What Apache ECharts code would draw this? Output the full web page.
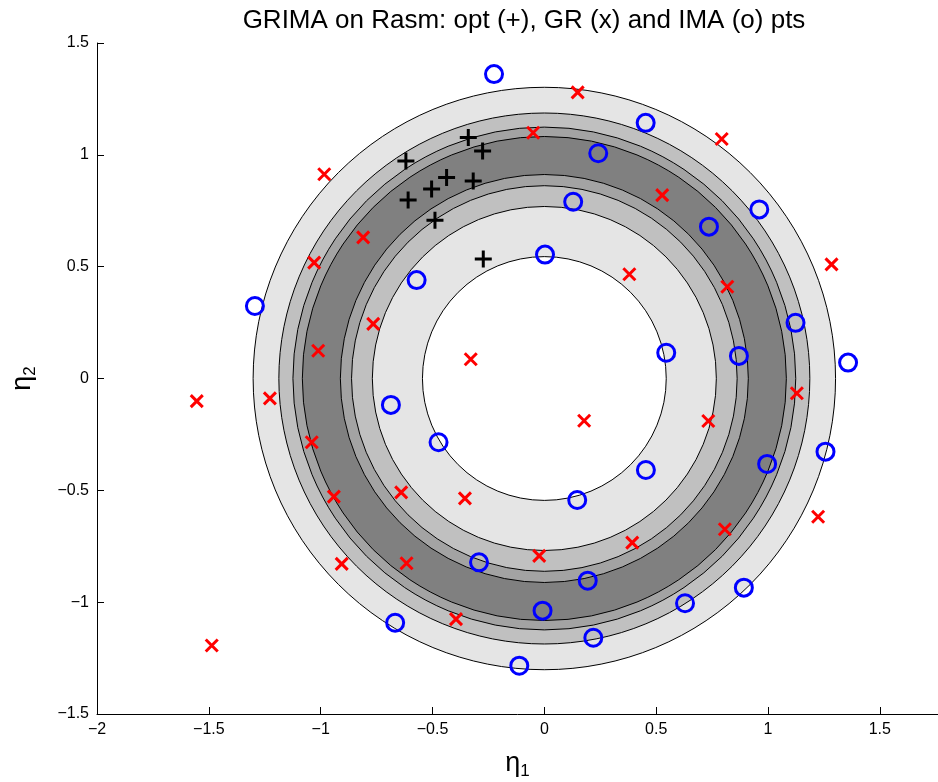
<!DOCTYPE html>
<html>
<head>
<meta charset="utf-8">
<script src="https://cdn.jsdelivr.net/npm/echarts@6/dist/echarts.min.js"></script>
<style>
  html, body { margin: 0; padding: 0; background: #ffffff; }
  #chart { width: 938px; height: 782px; }
</style>
</head>
<body>
<div id="chart"></div>
<script>
// Contour level radii (filled bands between consecutive circles), outermost first
const levelRadii = [1.302, 1.187, 1.124, 1.082, 0.912, 0.862, 0.769, 0.545];

// opt (+) points
const optX = [-0.619, -0.340, -0.276, -0.609, -0.504, -0.437, -0.318, -0.489, -0.273];
const optY = [0.972, 1.078, 1.017, 0.798, 0.847, 0.899, 0.883, 0.708, 0.534];

// GR (x) points
const grX = [0.149, -0.050, 0.793, -0.984, 0.527, -0.810, -1.029, 0.818, 0.380, 1.284,
             -0.765, -1.011, -0.329, 1.129, -1.554, -1.227, 0.178, 0.733, -1.040, -0.941,
             -0.640, -0.355, 1.224, 0.807, 0.393, -0.906, -0.616, -0.023, -0.395, -1.487];
const grY = [1.279, 1.099, 1.071, 0.913, 0.820, 0.631, 0.518, 0.410, 0.466, 0.510,
             0.244, 0.124, 0.086, -0.066, -0.101, -0.089, -0.189, -0.190, -0.285, -0.528,
             -0.509, -0.536, -0.618, -0.674, -0.734, -0.829, -0.826, -0.793, -1.076, -1.194];

// IMA (o) points
const imaX = [-0.225, 0.453, 0.241, 0.129, 0.736, 0.961, -0.571, 0.003, -1.294, 1.123,
              0.545, 0.870, 1.358, -0.686, -0.473, 1.257, 0.996, 0.454, 0.147, -0.292,
              0.194, 0.629, 0.892, -0.008, -0.667, 0.219, -0.112];
const imaY = [1.361, 1.143, 1.007, 0.790, 0.679, 0.756, 0.440, 0.554, 0.324, 0.249,
              0.115, 0.101, 0.071, -0.118, -0.285, -0.327, -0.382, -0.409, -0.543, -0.822,
              -0.904, -1.005, -0.935, -1.038, -1.092, -1.159, -1.284];

// Axis tick values
const xTicks = [-2, -1.5, -1, -0.5, 0, 0.5, 1, 1.5];
const yTicks = [-1.5, -1, -0.5, 0, 0.5, 1, 1.5];

// Fill shade for the band just inside each level circle
const bandShades = ['#e5e5e5', '#c0c0c0', '#a3a3a3', '#808080', '#a3a3a3', '#c0c0c0', '#e5e5e5', '#ffffff'];

const zip = (xs, ys) => xs.map((x, i) => [x, ys[i]]);
const minusFmt = v => String(v).replace('-', '\u2212');
const FONT = 'Liberation Sans, Arial, Helvetica, sans-serif';

const chart = echarts.init(document.getElementById('chart'), null, { renderer: 'canvas' });

chart.setOption({
  animation: false,
  backgroundColor: '#ffffff',
  title: {
    text: 'GRIMA on Rasm: opt (+), GR (x) and IMA (o) pts',
    left: 519,
    textAlign: 'center',
    top: 3,
    textStyle: { fontFamily: FONT, fontSize: 26, fontWeight: 'normal', color: '#000' }
  },
  grid: { left: 97, top: 43, right: 0, bottom: 68, containLabel: false, outerBoundsMode: 'none' },
  xAxis: {
    type: 'value',
    min: -2,
    max: 1.76,
    interval: 0.5,
    splitLine: { show: false },
    axisLine: { show: true, onZero: false, lineStyle: { color: '#000', width: 1 } },
    axisTick: { show: true, inside: true, length: 7, customValues: xTicks, lineStyle: { color: '#000' } },
    axisLabel: { customValues: xTicks, formatter: minusFmt, color: '#000', fontFamily: FONT, fontSize: 16, margin: 8 },
    name: '{a|\u03b7}{b|1}',
    nameLocation: 'middle',
    nameGap: 33,
    nameTextStyle: {
      rich: {
        a: { fontFamily: FONT, fontSize: 27, color: '#000' },
        b: { fontFamily: FONT, fontSize: 17, color: '#000', padding: [16, 0, 0, 0] }
      }
    }
  },
  yAxis: {
    type: 'value',
    min: -1.5,
    max: 1.5,
    interval: 0.5,
    splitLine: { show: false },
    axisLine: { show: true, onZero: false, lineStyle: { color: '#000', width: 1 } },
    axisTick: { show: true, inside: true, length: 7, customValues: yTicks, lineStyle: { color: '#000' } },
    axisLabel: { customValues: yTicks, formatter: minusFmt, color: '#000', fontFamily: FONT, fontSize: 16, margin: 8 },
    name: '{a|\u03b7}{b|2}',
    nameLocation: 'middle',
    nameGap: 58,
    nameRotate: 90,
    nameTextStyle: {
      rich: {
        a: { fontFamily: FONT, fontSize: 27, color: '#000' },
        b: { fontFamily: FONT, fontSize: 17, color: '#000', padding: [16, 0, 0, 0] }
      }
    }
  },
  series: [
    {
      // filled contour bands of the objective, centred at the origin
      type: 'custom',
      silent: true,
      z: 1,
      data: [[0, 0]],
      encode: { x: 0, y: 1 },
      renderItem: function (params, api) {
        const c = api.coord([api.value(0), api.value(1)]);
        const children = levelRadii.map((r, i) => {
          const rp = api.size([r, r])[0];
          return {
            type: 'circle',
            shape: { cx: c[0], cy: c[1], r: rp },
            style: { fill: bandShades[i], stroke: '#000', lineWidth: 1 }
          };
        });
        return { type: 'group', children: children };
      }
    },
    {
      name: 'opt',
      type: 'scatter',
      z: 3,
      silent: true,
      data: zip(optX, optY),
      symbol: 'path://M0,-1L0,1M-1,0L1,0',
      symbolSize: 17,
      itemStyle: { color: 'rgba(0,0,0,0)', borderColor: '#000', borderWidth: 3, opacity: 1 }
    },
    {
      name: 'GR',
      type: 'scatter',
      z: 3,
      silent: true,
      data: zip(grX, grY),
      symbol: 'path://M-1,-1L1,1M-1,1L1,-1',
      symbolSize: 12,
      itemStyle: { color: 'rgba(0,0,0,0)', borderColor: '#ff0000', borderWidth: 3, opacity: 1 }
    },
    {
      name: 'IMA',
      type: 'scatter',
      z: 3,
      silent: true,
      data: zip(imaX, imaY),
      symbol: 'circle',
      symbolSize: 17,
      itemStyle: { color: 'rgba(0,0,0,0)', borderColor: '#0000ff', borderWidth: 3, opacity: 1 }
    }
  ]
});
</script>
</body>
</html>
